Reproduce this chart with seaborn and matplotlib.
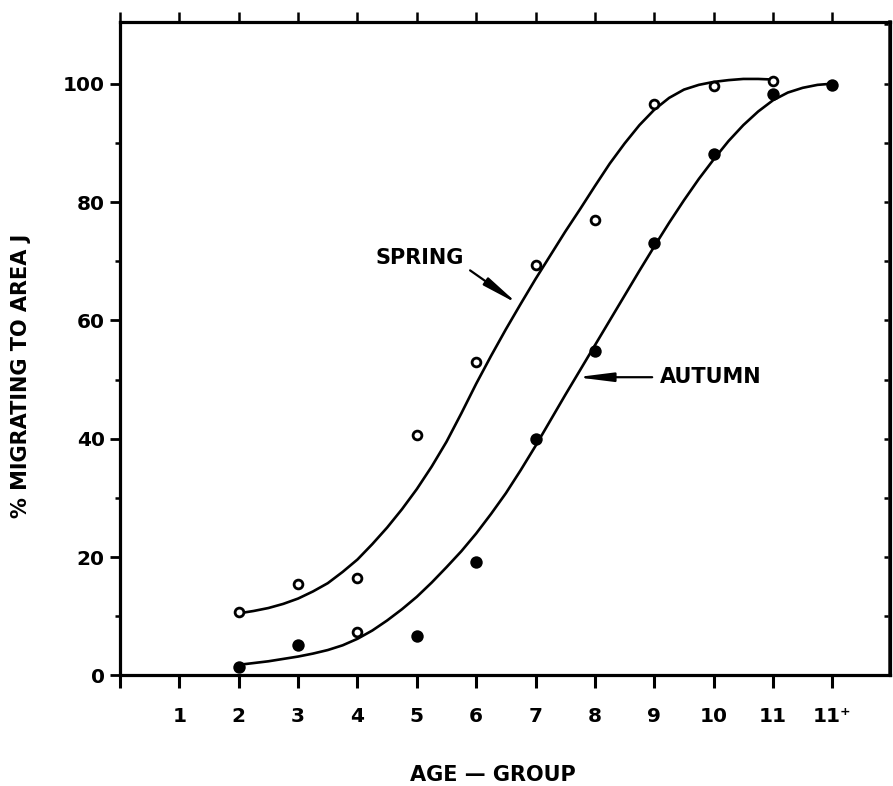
import matplotlib
matplotlib.use("Agg")
import matplotlib.pyplot as plt
import seaborn as sns

# ---- data -------------------------------------------------------------
# age-group positions on the x axis and their printed labels
age_pos = [1, 2, 3, 4, 5, 6, 7, 8, 9, 10, 11, 12]
age_labels = ["1", "2", "3", "4", "5", "6", "7", "8", "9", "10", "11", "11⁺"]

# observed percentage migrating to area J
spring_age = [2, 3, 4, 5, 6, 7, 8, 9, 10, 11]
spring_pct = [10.7, 15.5, 16.5, 40.7, 52.9, 69.3, 77.0, 96.6, 99.6, 100.4]

autumn_age = [2, 3, 4, 5, 6, 7, 8, 9, 10, 11, 12]
autumn_pct = [1.4, 5.1, 7.3, 6.7, 19.1, 39.9, 54.8, 73.0, 88.1, 98.3, 99.8]

# hand-fitted smooth curves through each season
spring_curve_age = [2.00, 2.25, 2.50, 2.75, 3.00, 3.25, 3.50, 3.75, 4.00, 4.25,
                    4.50, 4.75, 5.00, 5.25, 5.50, 5.75, 6.00, 6.25, 6.50, 6.75,
                    7.00, 7.25, 7.50, 7.75, 8.00, 8.25, 8.50, 8.75, 9.00, 9.25,
                    9.50, 9.75, 10.00, 10.25, 10.50, 10.75, 11.00]
spring_curve_pct = [10.5, 10.9, 11.4, 12.1, 13.0, 14.2, 15.6, 17.5, 19.6, 22.2,
                    25.0, 28.1, 31.5, 35.3, 39.5, 44.3, 49.3, 54.0, 58.5, 62.8,
                    67.0, 71.0, 75.0, 78.8, 82.7, 86.5, 89.9, 93.0, 95.6, 97.6,
                    99.0, 99.8, 100.3, 100.6, 100.8, 100.8, 100.7]

autumn_curve_age = [2.00, 2.25, 2.50, 2.75, 3.00, 3.25, 3.50, 3.75, 4.00, 4.25,
                    4.50, 4.75, 5.00, 5.25, 5.50, 5.75, 6.00, 6.25, 6.50, 6.75,
                    7.00, 7.25, 7.50, 7.75, 8.00, 8.25, 8.50, 8.75, 9.00, 9.25,
                    9.50, 9.75, 10.00, 10.25, 10.50, 10.75, 11.00, 11.25, 11.50,
                    11.75, 12.00]
autumn_curve_pct = [1.8, 2.1, 2.4, 2.8, 3.2, 3.7, 4.3, 5.1, 6.2, 7.6,
                    9.3, 11.2, 13.3, 15.7, 18.3, 21.0, 24.0, 27.3, 30.8, 34.7,
                    38.8, 43.1, 47.4, 51.6, 55.8, 60.0, 64.2, 68.4, 72.5, 76.5,
                    80.3, 83.9, 87.2, 90.3, 93.0, 95.3, 97.2, 98.5, 99.3,
                    99.8, 100.0]

y_major = [0, 20, 40, 60, 80, 100]
y_minor = [10, 30, 50, 70, 90]

# the autumn age-4 mark prints as a hollow ring
hollow_autumn_ages = [4]

# ---- figure -----------------------------------------------------------
sns.set_style("ticks")
plt.rcParams["font.family"] = ["DejaVu Sans"]
plt.rcParams["font.weight"] = "bold"
plt.rcParams["text.color"] = "black"
plt.rcParams["axes.labelcolor"] = "black"
plt.rcParams["xtick.color"] = "black"
plt.rcParams["ytick.color"] = "black"

fig = plt.figure(figsize=(8.93, 7.86), dpi=100)
ax = fig.add_axes([0.1344, 0.1406, 0.8622, 0.832])

sns.lineplot(x=spring_curve_age, y=spring_curve_pct, ax=ax, color="black",
             lw=1.9, sort=False, estimator=None)
sns.lineplot(x=autumn_curve_age, y=autumn_curve_pct, ax=ax, color="black",
             lw=1.9, sort=False, estimator=None)

sns.scatterplot(x=spring_age, y=spring_pct, ax=ax, marker="o", s=40,
                color="white", edgecolor="black", linewidth=2.0, zorder=4)

solid_a = [(a, p) for a, p in zip(autumn_age, autumn_pct) if a not in hollow_autumn_ages]
ring_a = [(a, p) for a, p in zip(autumn_age, autumn_pct) if a in hollow_autumn_ages]
sns.scatterplot(x=[a for a, _ in solid_a], y=[p for _, p in solid_a], ax=ax,
                marker="o", s=80, color="black", linewidth=0, zorder=4)
sns.scatterplot(x=[a for a, _ in ring_a], y=[p for _, p in ring_a], ax=ax,
                marker="o", s=40, color="white", edgecolor="black",
                linewidth=2.0, zorder=4)

ax.set_xlim(0, 12.97)
ax.set_ylim(0, 110.5)

for side in ["left", "bottom", "right", "top"]:
    ax.spines[side].set_linewidth(2.3)
    ax.spines[side].set_color("black")

ax.set_xticks([0] + age_pos)
ax.set_xticklabels([""] + age_labels)
ax.tick_params(axis="x", which="major", direction="out", length=9, width=2.2,
               pad=14, labelsize=14.5, colors="black")
ax.set_yticks(y_major)
ax.set_yticklabels([str(v) for v in y_major])
ax.set_yticks(y_minor, minor=True)
ax.tick_params(axis="y", which="major", direction="out", length=7, width=2.0,
               pad=4, labelsize=14.5, colors="black")
ax.tick_params(axis="y", which="minor", direction="out", length=3.5, width=1.8,
               colors="black")

top = ax.secondary_xaxis("top")
top.set_xticks(list(range(0, 14)))
top.tick_params(direction="out", length=7, width=1.8, labeltop=False)
top.spines["top"].set_linewidth(2.0)

right = ax.secondary_yaxis("right")
right.set_yticks(list(range(0, 111, 10)))
right.tick_params(direction="in", length=4, width=1.8, labelright=False)
right.spines["right"].set_linewidth(2.6)

ax.set_xlabel("AGE — GROUP", fontsize=15, fontweight="bold", color="black")
ax.xaxis.set_label_coords(0.484, -0.137)
ax.set_ylabel("% MIGRATING TO AREA J", fontsize=15, fontweight="bold",
              color="black")
ax.yaxis.set_label_coords(-0.115, 0.458)

arrow = dict(arrowstyle="-|>,head_length=1.2,head_width=0.15", color="black",
             lw=1.6, mutation_scale=18, shrinkA=3, shrinkB=0)
ax.annotate("SPRING", xy=(6.70, 62.8), xytext=(5.04, 70.6), ha="center",
            va="center", fontsize=15, fontweight="bold", color="black",
            arrowprops=dict(arrow, relpos=(1.0, 0.1)))
ax.annotate("AUTUMN", xy=(7.69, 50.4), xytext=(9.09, 50.4), ha="left",
            va="center", fontsize=15, fontweight="bold", color="black",
            arrowprops=dict(arrow, relpos=(0.0, 0.5)))

fig.savefig("out.png", dpi=100)
